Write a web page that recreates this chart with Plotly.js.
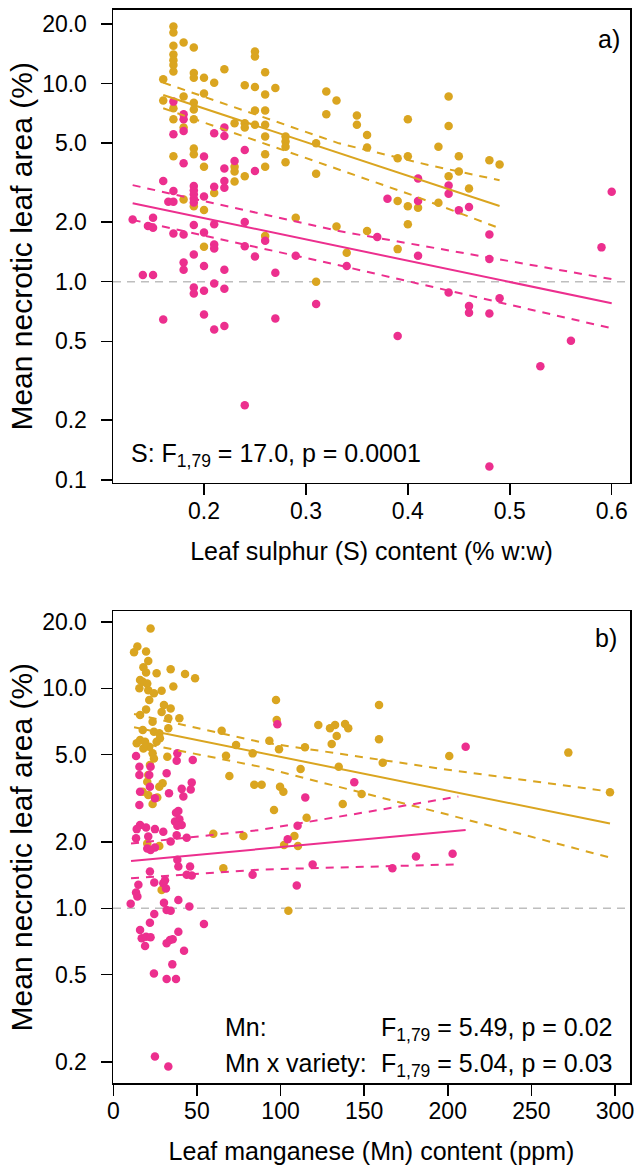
<!DOCTYPE html>
<html>
<head>
<meta charset="utf-8">
<script src="https://cdn.plot.ly/plotly-3.0.1.min.js"></script>
<style>html,body{margin:0;padding:0;background:#fff;}#chart{width:635px;height:1169px;}</style>
</head>
<body>
<div id="chart"></div>
<script>
// ---------- Panel a) : leaf sulphur ----------
const topGoldS = [
0.16,0.16,
0.17,0.17,0.17,0.17,0.17,0.17,0.17,0.17,0.17,0.17,
0.18,0.18,0.18,0.18,
0.19,0.19,0.19,0.19,0.19,0.19,0.19,0.19,0.19,
0.20,0.20,0.20,0.20,0.20,
0.21,0.21,
0.22,
0.23,0.23,0.23,0.23,
0.24,0.24,0.24,0.24,
0.25,0.25,0.25,0.25,0.25,
0.26,0.26,0.26,0.26,0.26,0.26,0.26,0.26,
0.27,
0.28,0.28,0.28,0.28,
0.29,
0.31,0.31,0.31,
0.32,0.32,
0.33,0.33,
0.34,
0.35,0.35,
0.36,0.36,0.36,
0.39,0.39,0.39,
0.40,0.40,0.40,0.40,
0.41,
0.43,0.43,
0.44,0.44,0.44,
0.45,0.45,
0.46,
0.48,
0.49];
const topGoldV = [
10.5,8.2,
19.4,18.1,15.5,14.0,13.1,12.4,11.5,7.5,6.6,4.3,
16.1,8.6,6.0,2.6,
15.2,11.3,10.7,8.0,7.4,6.6,4.7,4.4,2.4,
10.7,8.9,3.8,2.3,1.5,
10.1,2.8,
11.8,
6.3,3.8,3.6,3.2,
9.8,6.3,6.0,3.4,
14.5,13.7,9.6,7.3,6.2,
11.4,8.8,7.3,6.2,5.4,4.4,3.8,1.7,
9.5,
5.4,5.1,4.8,4.0,
2.1,
5.0,3.5,1.0,
9.1,7.0,
8.2,1.9,
1.4,
6.9,6.2,
5.5,4.75,1.8,
4.2,2.55,1.46,
6.6,4.3,2.4,1.95,
2.36,
4.8,2.5,
8.6,6.1,3.4,
4.3,3.6,
2.95,
4.1,
3.9];
const topPinkS = [
0.13,0.14,0.145,
0.15,0.15,0.15,
0.16,0.16,
0.165,
0.17,0.17,0.17,0.17,0.17,
0.18,0.18,0.18,0.18,0.18,0.18,0.18,
0.19,0.19,0.19,0.19,0.19,0.19,0.19,0.19,0.19,
0.20,0.20,0.20,0.20,0.20,0.20,
0.21,0.21,0.21,0.21,0.21,0.21,0.21,
0.22,0.22,0.22,0.22,0.22,0.22,0.22,0.22,
0.23,
0.24,0.24,0.24,0.24,
0.25,0.25,
0.26,
0.27,0.27,
0.29,
0.31,
0.34,
0.37,
0.38,
0.39,
0.41,0.41,0.41,
0.44,0.44,0.44,
0.45,
0.46,0.46,0.46,
0.48,0.48,0.48,0.48,
0.49,
0.53,
0.56,
0.59,
0.60];
const topPinkV = [
2.06,1.08,1.91,
2.10,1.87,1.08,
3.22,0.645,
2.53,
8.1,5.54,2.87,2.53,1.75,
7.0,6.6,5.76,3.96,1.73,1.25,1.15,
3.04,2.89,2.76,2.62,2.51,1.93,1.37,0.936,0.873,
4.28,2.69,1.77,1.20,0.900,0.684,
5.61,3.01,1.95,1.54,1.47,0.98,0.574,
5.99,5.43,3.72,3.22,2.98,1.15,0.922,0.597,
4.06,
4.62,2.00,1.51,0.238,
3.62,1.34,
1.61,
1.11,0.653,
1.35,
0.771,
1.20,
1.68,
2.62,
0.532,
3.32,2.55,1.35,
3.06,2.78,0.883,
2.29,
2.38,0.753,0.697,
1.73,1.30,0.692,0.117,
0.824,
0.375,
0.504,
1.49,
2.84];
// fitted lines and confidence bands
const topGoldFitS = [0.16, 0.49];
const topGoldFitV = [8.75, 2.41];
const topGoldUpS = [0.16, 0.3324, 0.42, 0.49];
const topGoldUpV = [10.1, 4.99, 3.88, 3.25];
const topGoldLoS = [0.16, 0.3324, 0.4037, 0.49];
const topGoldLoV = [7.5, 3.66, 2.74, 1.86];
const topPinkFitS = [0.13, 0.60];
const topPinkFitV = [2.49, 0.778];
const topPinkUpS = [0.13, 0.3324, 0.60];
const topPinkUpV = [3.07, 1.80, 1.03];
const topPinkLoS = [0.13, 0.3324, 0.60];
const topPinkLoV = [2.05, 1.21, 0.582];

// ---------- Panel b) : leaf manganese ----------
const botGoldMn = [22.3,12.4,14.4,19.6,20.9,18.0,19.6,25.9,34.3,42.9,48.9,16.0,17.6,20.3,15.6,20.9,24.3,28.9,35.9,21.5,30.3,34.3,19.6,28.9,16.0,32.9,39.5,23.5,32.9,17.6,24.3,27.5,16.0,19.0,25.9,14.0,27.9,21.5,18.0,23.5,32.3,24.3,21.9,20.9,20.3,29.5,27.5,17.6,20.9,26.3,23.5,64.8,73.4,67.4,83.3,69.4,84.3,88.7,97.3,97.7,99.1,93.3,99.7,101.7,96.1,112.0,115.6,59.8,77.8,108.3,110.4,102.1,65.8,27.5,28.9,104.7,20.3,114.6,122.6,129.6,132.6,133.6,130.6,138.6,140.5,158.9,158.9,161.1,134.8,148.5,137.2,200.9,272.1,297.0];
const botGoldV = [18.7,14.6,15.5,14.7,13.3,12.45,11.8,11.7,12.2,11.6,11.1,10.9,10.7,10.5,10.0,9.8,9.5,9.75,10.2,8.85,8.4,8.1,8.0,7.8,7.56,7.3,7.3,7.05,6.58,6.46,6.35,6.24,5.82,5.72,5.72,5.62,5.93,5.43,5.33,5.06,4.89,4.80,4.48,4.04,3.76,3.70,3.57,3.39,3.27,3.19,2.98,6.42,5.52,4.94,5.06,3.99,3.64,3.64,8.85,7.18,5.28,5.78,3.57,3.39,2.80,4.30,2.58,2.18,2.13,2.13,1.92,1.94,1.52,1.92,1.21,0.975,1.97,5.39,6.81,6.58,6.81,6.07,5.58,6.88,6.58,8.40,5.86,4.59,4.40,3.31,2.98,4.92,5.10,3.37];
const botPinkMn = [13.6,15.6,15.6,22.3,21.5,16.0,15.6,24.9,21.9,31.9,38.3,37.9,47.5,33.3,40.9,41.9,46.9,46.3,38.9,37.5,39.5,36.9,40.9,38.3,16.0,14.0,19.6,13.6,20.9,24.9,29.9,34.3,37.9,43.9,20.3,22.3,24.9,38.3,38.9,45.9,43.9,46.9,21.9,15.0,24.5,30.9,29.9,31.5,13.6,14.4,10.4,30.3,31.9,34.3,38.9,45.5,24.5,21.9,16.0,17.0,19.6,19.0,22.3,33.9,35.5,31.9,38.9,42.3,24.3,31.9,37.5,35.3,54.2,24.9,32.9,98.1,83.3,109.7,104.3,110.2,114.8,119.2,144.1,166.9,181.0,202.9,210.7];
const botPinkV = [4.92,4.40,4.04,4.40,4.04,3.39,2.95,3.16,3.57,4.11,5.06,4.69,4.72,3.33,3.49,3.22,3.73,3.47,2.77,2.72,2.54,2.48,2.39,2.37,2.39,2.29,2.33,2.08,2.12,2.29,2.23,2.01,2.15,2.09,1.87,1.84,1.89,1.66,1.55,1.55,1.42,1.41,1.47,1.28,1.31,1.34,1.30,1.23,1.18,1.13,1.05,1.06,0.982,0.975,1.09,1.02,0.942,0.860,0.797,0.730,0.743,0.674,0.738,0.718,0.723,0.693,0.783,0.642,0.506,0.477,0.477,0.556,0.848,0.212,0.191,6.86,1.42,1.27,2.06,2.37,3.19,1.58,3.74,1.52,1.72,1.77,5.43];
const botGoldFitMn = [12.4, 297];
const botGoldFitV = [6.65, 2.43];
const botGoldUpMn = [12.4, 87.8, 201.3, 297];
const botGoldUpV = [7.64, 5.7, 4.25, 3.39];
const botGoldLoMn = [12.4, 87.8, 201.3, 297];
const botGoldLoV = [5.72, 4.40, 2.65, 1.70];
const botPinkFitMn = [10.6, 210.7];
const botPinkFitV = [1.64, 2.27];
const botPinkUpMn = [10.6, 87.8, 206.3];
const botPinkUpV = [1.97, 2.27, 3.22];
const botPinkLoMn = [10.6, 87.8, 207.3];
const botPinkLoV = [1.37, 1.50, 1.585];

// tick labels
const yTickVals = [0.1, 0.2, 0.5, 1, 2, 5, 10, 20];
const yTickText = ['0.1','0.2','0.5','1.0','2.0','5.0','10.0','20.0'];
const sTickVals = [0.2, 0.3, 0.4, 0.5, 0.6];
const sTickText = ['0.2','0.3','0.4','0.5','0.6'];
const mnTickVals = [0, 50, 100, 150, 200, 250, 300];
const mnTickText = ['0','50','100','150','200','250','300'];

const GOLD = '#DAA520';
const PINK = '#EC2F8E';
const FONT = 'Liberation Sans, Arial, Helvetica, sans-serif';

function pts(x, y, c, xa, ya) {
  return {x: x, y: y, xaxis: xa, yaxis: ya, type: 'scatter', mode: 'markers',
    marker: {color: c, size: 8.5, line: {width: 0}}, showlegend: false, hoverinfo: 'skip'};
}
function ln(x, y, c, dash, xa, ya) {
  return {x: x, y: y, xaxis: xa, yaxis: ya, type: 'scatter', mode: 'lines',
    line: {color: c, width: 2, dash: dash}, showlegend: false, hoverinfo: 'skip'};
}
const DASH = '8px,7px';

const data = [
  pts(topGoldS, topGoldV, GOLD, 'x', 'y'),
  pts(topPinkS, topPinkV, PINK, 'x', 'y'),
  ln(topGoldFitS, topGoldFitV, GOLD, 'solid', 'x', 'y'),
  ln(topGoldUpS, topGoldUpV, GOLD, DASH, 'x', 'y'),
  ln(topGoldLoS, topGoldLoV, GOLD, DASH, 'x', 'y'),
  ln(topPinkFitS, topPinkFitV, PINK, 'solid', 'x', 'y'),
  ln(topPinkUpS, topPinkUpV, PINK, DASH, 'x', 'y'),
  ln(topPinkLoS, topPinkLoV, PINK, DASH, 'x', 'y'),
  pts(botGoldMn, botGoldV, GOLD, 'x2', 'y2'),
  pts(botPinkMn, botPinkV, PINK, 'x2', 'y2'),
  ln(botGoldFitMn, botGoldFitV, GOLD, 'solid', 'x2', 'y2'),
  ln(botGoldUpMn, botGoldUpV, GOLD, DASH, 'x2', 'y2'),
  ln(botGoldLoMn, botGoldLoV, GOLD, DASH, 'x2', 'y2'),
  ln(botPinkFitMn, botPinkFitV, PINK, 'solid', 'x2', 'y2'),
  ln(botPinkUpMn, botPinkUpV, PINK, DASH, 'x2', 'y2'),
  ln(botPinkLoMn, botPinkLoV, PINK, DASH, 'x2', 'y2')
];

const axBase = {
  showline: true, mirror: true, linecolor: '#000', linewidth: 1.5,
  ticks: 'outside', ticklen: 11, tickwidth: 1.5, tickcolor: '#000',
  showgrid: false, zeroline: false, tickfont: {size: 23, color: '#000', family: FONT},
  fixedrange: true
};
const yTitleFont = {size: 30, color: '#000', family: FONT};
const xTitleFont = {size: 25, color: '#000', family: FONT};

const layout = {
  width: 635, height: 1169,
  margin: {l: 113, r: 5, t: 0, b: 0},
  paper_bgcolor: '#fff', plot_bgcolor: '#fff',
  font: {family: FONT, color: '#000'},
  showlegend: false,
  xaxis: Object.assign({}, axBase, {
    anchor: 'y', domain: [0, 1], range: [0.11072, 0.61795], ticklabelstandoff: -4,
    tickmode: 'array', tickvals: sTickVals, ticktext: sTickText,
    title: {text: 'Leaf sulphur (S) content (% w:w)', font: xTitleFont, standoff: 19}
  }),
  yaxis: Object.assign({}, axBase, {
    anchor: 'x', type: 'log', domain: [0.58708, 0.99145], range: [-1.0141, 1.3708], ticklabelstandoff: 9,
    tickmode: 'array', tickvals: yTickVals, ticktext: yTickText,
    title: {text: 'Mean necrotic leaf area (%)', font: yTitleFont, standoff: 0}
  }),
  xaxis2: Object.assign({}, axBase, {
    anchor: 'y2', domain: [0, 1], range: [-0.18, 308.97], ticklabelstandoff: -4,
    tickmode: 'array', tickvals: mnTickVals, ticktext: mnTickText,
    title: {text: 'Leaf manganese (Mn) content (ppm)', font: xTitleFont, standoff: 19}
  }),
  yaxis2: Object.assign({}, axBase, {
    anchor: 'x2', type: 'log', domain: [0.07331, 0.47733], range: [-0.7955, 1.3513], ticklabelstandoff: 9,
    tickmode: 'array', tickvals: yTickVals.slice(1), ticktext: yTickText.slice(1),
    title: {text: 'Mean necrotic leaf area (%)', font: yTitleFont, standoff: 0}
  }),
  shapes: [
    {type: 'line', xref: 'x domain', x0: 0, x1: 1, yref: 'y', y0: 1, y1: 1,
     line: {color: '#BEBEBE', width: 1.5, dash: '8px,6px'}, layer: 'below'},
    {type: 'line', xref: 'x2 domain', x0: 0, x1: 1, yref: 'y2', y0: 1, y1: 1,
     line: {color: '#BEBEBE', width: 1.5, dash: '8px,6px'}, layer: 'below'}
  ],
  annotations: [
    {text: 'a)', xref: 'x domain', yref: 'y domain', x: 0.9845, y: 0.9725,
     xanchor: 'right', yanchor: 'top', showarrow: false, font: {size: 25, color: '#000', family: FONT}},
    {text: 'S: F<sub>1,79</sub> = 17.0, p = 0.0001', xref: 'x domain', yref: 'y domain', x: 0.031, y: 0.0967,
     xanchor: 'left', yanchor: 'top', showarrow: false, font: {size: 25, color: '#000', family: FONT}},
    {text: 'b)', xref: 'x2 domain', yref: 'y2 domain', x: 0.9787, y: 0.9767,
     xanchor: 'right', yanchor: 'top', showarrow: false, font: {size: 25, color: '#000', family: FONT}},
    {text: 'Mn:', xref: 'x2 domain', yref: 'y2 domain', x: 0.2128, y: 0.1531,
     xanchor: 'left', yanchor: 'top', showarrow: false, font: {size: 25, color: '#000', family: FONT}},
    {text: 'F<sub>1,79</sub> = 5.49, p = 0.02', xref: 'x2 domain', yref: 'y2 domain', x: 0.5145, y: 0.1531,
     xanchor: 'left', yanchor: 'top', showarrow: false, font: {size: 25, color: '#000', family: FONT}},
    {text: 'Mn x variety:', xref: 'x2 domain', yref: 'y2 domain', x: 0.2128, y: 0.0769,
     xanchor: 'left', yanchor: 'top', showarrow: false, font: {size: 25, color: '#000', family: FONT}},
    {text: 'F<sub>1,79</sub> = 5.04, p = 0.03', xref: 'x2 domain', yref: 'y2 domain', x: 0.5145, y: 0.0769,
     xanchor: 'left', yanchor: 'top', showarrow: false, font: {size: 25, color: '#000', family: FONT}}
  ]
};

Plotly.newPlot('chart', data, layout, {displayModeBar: false, staticPlot: true});
</script>
</body>
</html>
